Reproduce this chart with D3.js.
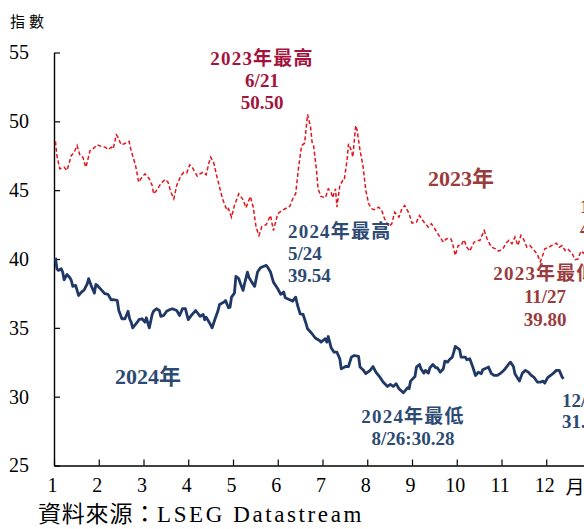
<!DOCTYPE html>
<html>
<head>
<meta charset="utf-8">
<script src="https://cdn.jsdelivr.net/npm/d3@7/dist/d3.min.js"></script>
<style>
  html, body { margin: 0; padding: 0; background: #fff; overflow: hidden; }
  svg { display: block; }
  text { font-family: "Liberation Serif", "Noto Sans CJK TC", serif; }
</style>
</head>
<body>
<svg id="chart" width="584" height="529"></svg>
<script>
// ---- data ---------------------------------------------------------------
const dates2023 = ["01-02","01-03","01-05","01-08","01-10","01-13","01-15","01-17","01-19","01-21","01-23","01-24","01-26","01-28","01-31",
  "02-02","02-05","02-07","02-09","02-10","02-12","02-13","02-15","02-17","02-20","02-21","02-24","02-26","02-28",
  "03-02","03-05","03-07","03-08","03-10","03-13","03-16","03-18","03-20","03-22","03-24","03-27","03-29","03-31",
  "04-02","04-04","04-07","04-09","04-11","04-13","04-15","04-16","04-18","04-20","04-22","04-24","04-27","04-28","04-30",
  "05-02","05-05","05-08","05-10","05-13","05-15","05-17","05-19","05-21","05-24","05-27","05-29",
  "06-01","06-04","06-06","06-09","06-11","06-13","06-15","06-17","06-19","06-21","06-23","06-24","06-25","06-27","06-28","06-30",
  "07-03","07-05","07-07","07-08","07-10","07-11","07-13","07-15","07-16","07-18","07-19","07-21","07-22","07-24","07-25","07-27","07-29","07-31",
  "08-02","08-04","08-06","08-09","08-11","08-13","08-16","08-18","08-20","08-23","08-25","08-27","08-30",
  "09-01","09-04","09-06","09-09","09-12","09-14","09-17","09-19","09-22","09-24","09-27","09-28","09-30",
  "10-02","10-04","10-06","10-08","10-10","10-13","10-15","10-17","10-20","10-22","10-25","10-28","10-30",
  "11-02","11-04","11-06","11-08","11-10","11-12","11-14","11-16","11-18","11-20","11-23","11-25","11-27","11-29","11-30",
  "12-03","12-06","12-08","12-10","12-12","12-14","12-16","12-19","12-21","12-23","12-25","12-27","12-29"];
const values2023 = [48.54,47.50,46.55,46.67,46.43,47.52,47.76,48.25,47.52,47.40,46.67,47.03,47.88,48.00,48.30,
  48.20,48.12,47.96,48.12,48.00,49.02,48.85,48.30,48.37,48.54,48.00,46.80,45.58,45.94,
  46.19,45.83,45.34,44.74,44.98,45.47,45.78,45.58,44.85,44.37,45.34,46.07,46.31,46.26,
  46.84,46.60,46.02,46.19,46.31,46.12,47.03,47.40,47.03,46.07,45.22,44.37,43.53,43.65,43.04,
  43.89,44.74,44.30,43.72,44.54,43.77,42.31,41.71,42.36,42.50,43.16,42.07,
  43.29,43.53,43.65,43.82,44.37,44.74,46.67,48.25,48.41,50.50,49.58,48.49,48.25,46.43,45.10,44.54,
  44.45,45.10,44.85,44.45,45.10,43.77,45.34,45.70,45.70,47.16,48.37,47.88,47.40,49.70,49.34,47.88,46.80,44.98,
  44.01,43.65,43.58,43.77,43.53,42.92,42.36,42.56,43.40,43.04,43.65,43.89,43.29,
  42.60,42.68,43.16,42.68,42.31,42.56,42.07,41.71,41.22,41.47,41.47,41.22,40.26,
  40.98,40.98,41.39,40.86,40.57,41.22,41.35,41.35,42.07,41.47,40.86,40.74,40.57,
  40.74,41.15,41.35,41.11,41.59,40.98,41.71,41.39,40.86,40.98,40.62,40.33,39.80,40.38,40.74,
  40.86,41.06,41.15,40.86,40.98,40.62,40.74,40.38,39.95,40.00,40.57,40.43,40.19];

const dates2024 = ["01-02","01-03","01-04","01-06","01-07","01-08","01-10","01-12","01-13","01-14","01-16","01-18","01-20","01-22","01-24","01-25","01-27","01-29","01-30","01-31",
  "02-03","02-05","02-07","02-09","02-11","02-13","02-14","02-16","02-18","02-20","02-21","02-22","02-23","02-26","02-27","02-29",
  "03-02","03-03","03-05","03-07","03-08","03-10","03-12","03-13","03-15","03-17","03-19","03-21","03-24","03-26","03-28","03-30",
  "04-01","04-03","04-05","04-06","04-08","04-09","04-11","04-12","04-13","04-15","04-17","04-19","04-21","04-22","04-25","04-26","04-28","04-29","04-30",
  "05-02","05-03","05-05","05-06","05-08","05-09","05-11","05-12","05-14","05-16","05-18","05-20","05-22","05-24","05-25","05-27","05-29",
  "06-01","06-03","06-05","06-06","06-09","06-11","06-13","06-14","06-16","06-18","06-20","06-21","06-24","06-26","06-27","06-29","06-30",
  "07-03","07-04","07-05","07-07","07-09","07-11","07-13","07-14","07-17","07-19","07-21","07-23","07-26","07-27","07-29","07-31",
  "08-03","08-05","08-07","08-10","08-12","08-15","08-17","08-19","08-21","08-23","08-26","08-27","08-29","08-30","08-31",
  "09-03","09-04","09-06","09-07","09-09","09-10","09-12","09-13","09-15","09-17","09-18","09-20","09-22","09-23","09-25","09-26","09-28","09-29","09-30",
  "10-03","10-04","10-07","10-08","10-10","10-12","10-14","10-16","10-18","10-19","10-22","10-23","10-25","10-27","10-29","10-31",
  "11-03","11-06","11-07","11-09","11-10","11-13","11-15","11-17","11-19","11-21","11-23","11-25","11-27","11-29","11-30",
  "12-02","12-04","12-06","12-08","12-10","12-11","12-12","12-13"];
const values2024 = [40.09,39.29,39.17,39.29,39.05,38.49,38.88,38.64,38.44,38.01,38.08,37.35,37.59,37.77,38.20,38.57,38.01,37.52,38.15,38.08,
  37.72,37.48,37.43,37.04,37.04,36.99,36.26,35.66,35.66,36.21,35.66,35.41,35.00,35.41,35.59,35.66,
  35.41,35.73,35.00,35.97,36.21,36.39,36.26,35.83,35.90,36.21,36.31,36.39,36.26,35.90,36.39,36.39,
  35.59,35.90,36.14,36.26,35.97,35.83,35.97,35.59,35.78,35.41,35.00,35.66,36.26,36.70,36.87,36.99,36.46,36.50,37.23,
  37.52,38.73,38.57,38.25,37.72,38.20,39.05,38.68,38.32,38.01,39.05,39.36,39.46,39.54,39.41,39.05,38.32,
  37.84,37.43,37.60,37.19,37.04,36.94,37.23,36.75,36.02,35.97,35.30,34.93,34.57,34.28,34.21,34.08,33.96,
  34.21,33.96,34.37,33.55,33.23,33.23,32.75,32.02,32.19,32.19,32.87,32.99,32.92,32.15,31.96,31.67,
  31.91,32.19,31.78,31.38,31.06,30.74,30.89,30.74,30.94,30.58,30.28,30.40,30.65,30.58,31.13,
  31.47,32.15,32.34,32.03,31.71,31.91,31.71,32.10,32.34,32.10,32.10,31.78,32.03,32.58,32.51,32.68,32.87,33.23,33.65,
  33.41,32.87,32.87,32.68,32.75,32.19,31.54,31.78,31.67,31.96,32.10,32.15,31.67,31.54,31.54,31.67,
  31.96,32.39,32.51,32.19,31.67,31.13,31.71,31.91,31.78,31.54,31.38,31.06,31.06,31.13,30.99,
  31.38,31.54,31.71,31.91,31.91,31.67,31.42,31.30];

// dates singled out in the notes: [high, low]
const notes2023 = ["06-21", "11-27"];
const notes2024 = ["05-24", "08-26"];

const yTicks = [25, 30, 35, 40, 45, 50, 55];
const monthLabels = ["1","2","3","4","5","6","7","8","9","10","11","12"];
const monthUnit = "月";
const yUnit = "指數";
const sourceLead = "資料來源：";
const sourceName = "LSEG Datastream";
const seriesNames = ["2023年", "2024年"];

// ---- helpers ------------------------------------------------------------
// position along the axis in months: (month-1) + fraction of the month
function monthPos(year, s) {
  const [m, d] = s.split("-").map(Number);
  const dim = new Date(year, m, 0).getDate();
  return (m - 1) + (d - 1) / dim;
}
function build(year, dates, values) {
  return dates.map((s, i) => ({ year, md: s, pos: monthPos(year, s), v: values[i] }));
}
const s2023 = build(2023, dates2023, values2023);
const s2024 = build(2024, dates2024, values2024);
const mdLabel = p => { const [m, d] = p.md.split("-").map(Number); return m + "/" + d; };
const at = (series, md) => series.find(p => p.md === md);

// ---- layout -------------------------------------------------------------
const svg = d3.select("#chart");
const x = d3.scaleLinear().domain([0, 12]).range([54, 591]);
const y = d3.scaleLinear().domain([25, 55]).range([465.5, 52.5]);

const C = {
  axis: "#000",
  red: "#e3141c",
  red23hi: "#a3133c",
  brown: "#9a3b3d",
  navyLine: "#1f3866",
  navyText: "#2c4a72"
};

// axes
const yAxis = d3.axisLeft(y).tickValues(yTicks).tickSizeInner(-6).tickSizeOuter(0).tickPadding(25);
const gy = svg.append("g").attr("transform", `translate(${x(0)},0)`).call(yAxis);
gy.selectAll("text").attr("font-size", 20).attr("fill", "#000").attr("font-family", "Liberation Serif");

const xAxis = d3.axisBottom(x).tickValues(d3.range(0, 12)).tickSizeInner(-6).tickSizeOuter(0)
  .tickFormat(i => monthLabels[i]).tickPadding(12);
const gx = svg.append("g").attr("transform", `translate(0,${y(25)})`).call(xAxis);
gx.selectAll("text").attr("font-size", 20).attr("fill", "#000").attr("dx", -2).attr("font-family", "Liberation Serif");

[gx, gy].forEach(g => {
  g.select(".domain").attr("stroke", C.axis).attr("stroke-width", 1.4);
  g.selectAll(".tick line").attr("stroke", C.axis).attr("stroke-width", 1.2);
});

svg.append("text").attr("x", 575).attr("y", y(25) + 28).attr("text-anchor", "middle")
  .attr("font-size", 19).attr("font-family", "Noto Sans CJK TC").text(monthUnit);

svg.append("text").attr("x", 10).attr("y", 27).attr("font-size", 15).attr("letter-spacing", 4)
  .attr("font-family", "Noto Sans CJK TC").text(yUnit);

const src = svg.append("text").attr("x", 38).attr("y", 522).attr("font-size", 23).attr("fill", "#000");
src.append("tspan").attr("font-family", "Noto Sans CJK TC").attr("letter-spacing", 0.8).text(sourceLead);
src.append("tspan").attr("letter-spacing", 2.6).text(sourceName);

// lines
const line = d3.line().x(d => x(d.pos)).y(d => y(d.v)).curve(d3.curveLinear);
svg.append("path").datum(s2023).attr("d", line).attr("fill", "none")
  .attr("stroke", C.red).attr("stroke-width", 1.5).attr("stroke-dasharray", "4,2.4");
svg.append("path").datum(s2024).attr("d", line).attr("fill", "none")
  .attr("stroke", C.navyLine).attr("stroke-width", 2.8).attr("stroke-linejoin", "round");

// annotations
function block(lines, xPos, yBase, color, anchor, size, gap) {
  const t = svg.append("text").attr("fill", color).attr("font-weight", "bold")
    .attr("font-size", size).attr("text-anchor", anchor);
  lines.forEach((s, i) => {
    t.append("tspan").attr("x", xPos).attr("y", yBase + i * gap).text(s)
      .attr("letter-spacing", /年/.test(s) ? 1.2 : 0);
  });
}
const hi23 = at(s2023, notes2023[0]), lo23 = at(s2023, notes2023[1]);
const hi24 = at(s2024, notes2024[0]), lo24 = at(s2024, notes2024[1]);
const last23 = s2023[s2023.length - 1];
const last24 = s2024[s2024.length - 1];

block(["2023年最高", mdLabel(hi23), hi23.v.toFixed(2)], 262, 65, C.red23hi, "middle", 19, 22);
block(["2024年最高", mdLabel(hi24), hi24.v.toFixed(2)], 288, 238, C.navyText, "start", 19, 22);
block(["2023年最低", mdLabel(lo23), lo23.v.toFixed(2)], 545, 280, C.brown, "middle", 19, 23);
block(["2024年最低", mdLabel(lo24) + ":" + lo24.v.toFixed(2)], 413, 423, C.navyText, "middle", 19, 22);
block([mdLabel(last23), last23.v.toFixed(2)], 580, 213, C.brown, "start", 19, 22);
block([mdLabel(last24), last24.v.toFixed(2)], 562, 407, C.navyText, "start", 19, 21);

svg.append("text").attr("x", 461).attr("y", 186).attr("text-anchor", "middle").attr("fill", C.brown)
  .attr("font-weight", "bold").attr("font-size", 22).text(seriesNames[0]);
svg.append("text").attr("x", 115).attr("y", 384).attr("text-anchor", "start").attr("fill", C.navyText)
  .attr("font-weight", "bold").attr("font-size", 22).text(seriesNames[1]);
</script>
</body>
</html>
